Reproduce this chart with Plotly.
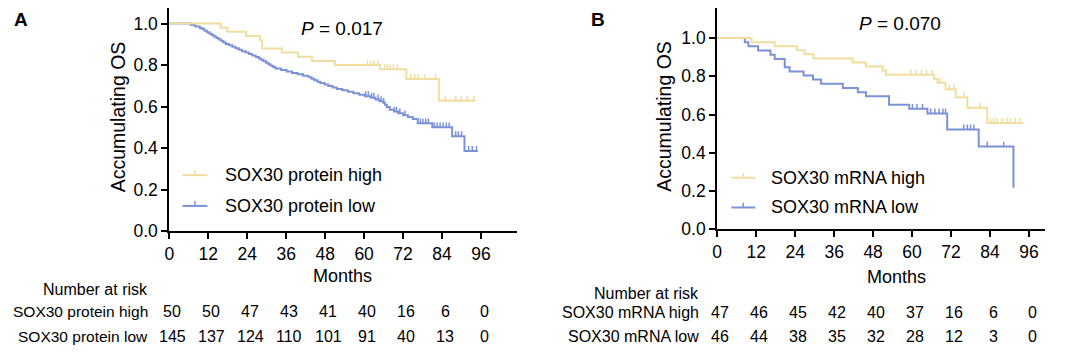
import numpy as np
import plotly.graph_objects as go

W, H = 1067, 353
OFF = 8  # page offset of the figure inside the browser window
FONT = "Liberation Sans, Arial, sans-serif"
YELLOW = "#F1DE9F"
BLUE = "#7C92D7"

# ---------------- data ----------------
MONTH_TICKS = [0, 12, 24, 36, 48, 60, 72, 84, 96]
SURV_TICKS = [0.0, 0.2, 0.4, 0.6, 0.8, 1.0]

# Panel A: SOX30 protein
protein_high_t = [0, 15.8, 17.9, 23.7, 27.9, 28.6, 34.7, 39.6, 43.9, 51.0, 64.9, 73.0, 83.0, 94.3]
protein_high_s = [1.0, 0.98, 0.96, 0.94, 0.92, 0.88, 0.86, 0.84, 0.82, 0.80, 0.78, 0.733, 0.628, 0.628]
protein_high_cens = [61.0, 62.0, 63.0, 64.2, 66.3, 67.2, 68.1, 69.0, 70.3, 74.3, 75.6, 76.6, 78.6, 82.0,
                     85.0, 88.2, 89.9, 91.8, 93.8]

protein_low_t = [0, 6.6, 8.0, 9.4, 10.2, 10.9, 11.6, 12.4, 13.1, 13.8, 14.5, 15.2, 16.0, 16.7, 17.4,
                 18.4, 19.4, 20.4, 21.4, 22.4, 23.5, 24.5, 25.5, 26.6, 27.6, 28.3, 29.0, 29.8, 30.5,
                 31.2, 32.0, 32.7, 34.4, 36.1, 37.8, 39.5, 41.2, 42.9, 43.8, 44.7, 45.6, 46.5, 47.8,
                 49.0, 50.3, 51.6, 53.3, 55.0, 56.7, 58.5, 60.3, 62.0, 63.5, 64.7, 65.9, 66.4, 67.0,
                 67.9, 69.2, 70.5, 72.0, 73.5, 75.0, 76.5, 81.0, 87.1, 90.9, 95.0]
protein_low_s = [1.0, 0.993, 0.986, 0.979, 0.972, 0.965, 0.958, 0.951, 0.944, 0.937, 0.930, 0.923, 0.916,
                 0.909, 0.902, 0.895, 0.888, 0.881, 0.874, 0.867, 0.860, 0.853, 0.846, 0.839, 0.832,
                 0.825, 0.818, 0.811, 0.804, 0.797, 0.790, 0.783, 0.776, 0.769, 0.762, 0.755, 0.748,
                 0.741, 0.734, 0.727, 0.720, 0.713, 0.706, 0.699, 0.692, 0.685, 0.678, 0.671, 0.664,
                 0.657, 0.650, 0.642, 0.634, 0.626, 0.618, 0.608, 0.598, 0.585, 0.576, 0.567, 0.558,
                 0.549, 0.540, 0.519, 0.500, 0.457, 0.386, 0.386]
protein_low_cens = [60.5, 61.3, 62.3, 63.0, 64.3, 65.2, 66.0, 69.3, 70.0, 71.0, 72.6, 77.3, 78.1, 79.0,
                    79.8, 81.6, 82.5, 83.4, 84.3, 85.3, 86.2, 88.2, 89.0, 90.0, 92.2, 93.3, 94.6]

# Panel B: SOX30 mRNA
mrna_high_t = [0, 10.6, 17.7, 24.6, 26.9, 29.7, 41.7, 45.8, 50.9, 52.0, 66.7, 67.8, 70.3, 73.4, 77.0,
               83.1, 94.3]
mrna_high_s = [1.0, 0.979, 0.957, 0.936, 0.915, 0.894, 0.872, 0.851, 0.830, 0.809, 0.787, 0.766, 0.732,
               0.690, 0.636, 0.556, 0.556]
mrna_high_cens = [59.6, 61.1, 62.9, 64.5, 66.2, 68.6, 71.5, 72.8, 75.9, 81.0, 84.1, 85.1, 86.1, 87.7,
                  89.2, 90.2, 91.8, 93.3]

mrna_low_t = [0, 8.5, 9.6, 12.6, 16.4, 17.7, 20.8, 22.3, 26.6, 29.5, 32.0, 38.7, 43.3, 45.8, 52.9,
              59.1, 64.7, 70.8, 80.5, 91.2]
mrna_low_s = [1.0, 0.978, 0.957, 0.935, 0.913, 0.891, 0.848, 0.826, 0.804, 0.783, 0.761, 0.739, 0.717,
              0.696, 0.652, 0.630, 0.606, 0.522, 0.433, 0.217]
mrna_low_cens = [60.1, 61.5, 63.2, 65.7, 67.0, 68.3, 69.5, 70.3, 75.9, 77.0, 78.0, 79.0, 83.1, 88.2]

risk_protein_high = [50, 50, 47, 43, 41, 40, 16, 6, 0]
risk_protein_low = [145, 137, 124, 110, 101, 91, 40, 13, 0]
risk_mrna_high = [47, 46, 45, 42, 40, 37, 16, 6, 0]
risk_mrna_low = [46, 44, 38, 35, 32, 28, 12, 3, 0]

label_protein_high = "SOX30 protein high"
label_protein_low = "SOX30 protein low"
label_mrna_high = "SOX30 mRNA high"
label_mrna_low = "SOX30 mRNA low"
p_text_a = "<i>P</i> = 0.017"
p_text_b = "<i>P</i> = 0.070"

# ---------------- layout geometry (window pixels) ----------------
def px(x):
    return (x - OFF) / W


def py(y):
    return 1 - (y - OFF) / H


# x0: pixel of month 0, pm: pixels per month, y0: pixel of 0.0, pxu: pixels per unit survival
PANELS = {
    "A": dict(xa="x", ya="y", x0=165, pm=3.263, y0=237.5, xmax=107, pxu=213.5),
    "B": dict(xa="x2", ya="y2", x0=715.5, pm=3.264, y0=235.7, xmax=101, pxu=196.7),
}


def surv_at(t_list, s_list, t):
    idx = np.searchsorted(np.asarray(t_list), t, side="right") - 1
    return s_list[max(idx, 0)]


def censor_xy(t_list, s_list, cens, dy):
    xs, ys = [], []
    for c in cens:
        s = surv_at(t_list, s_list, c)
        xs += [c, c, None]
        ys += [s, s + dy, None]
    return xs, ys


fig = go.Figure()

series = [
    ("A", protein_low_t, protein_low_s, protein_low_cens, BLUE),
    ("A", protein_high_t, protein_high_s, protein_high_cens, YELLOW),
    ("B", mrna_low_t, mrna_low_s, mrna_low_cens, BLUE),
    ("B", mrna_high_t, mrna_high_s, mrna_high_cens, YELLOW),
]
for pan, t, s, cens, col in series:
    P = PANELS[pan]
    fig.add_trace(go.Scatter(x=t, y=s, mode="lines", line=dict(shape="hv", color=col, width=2),
                             xaxis=P["xa"], yaxis=P["ya"], showlegend=False, hoverinfo="skip"))
    cx, cy = censor_xy(t, s, cens, 5.0 / P["pxu"])
    fig.add_trace(go.Scatter(x=cx, y=cy, mode="lines", line=dict(color=col, width=1.5),
                             xaxis=P["xa"], yaxis=P["ya"], showlegend=False, hoverinfo="skip"))

axis_common = dict(showline=True, linecolor="black", linewidth=2, ticks="outside", ticklen=6,
                   tickwidth=2, tickcolor="black", showgrid=False, zeroline=False,
                   tickfont=dict(family=FONT, size=17.5, color="black"))

for key, P in PANELS.items():
    xname = "xaxis" if P["xa"] == "x" else "xaxis2"
    yname = "yaxis" if P["ya"] == "y" else "yaxis2"
    x1 = P["x0"] + P["xmax"] * P["pm"]
    ymax = (P["y0"] - OFF) / P["pxu"]  # axis reaches the top of the figure
    fig.update_layout(**{
        xname: dict(domain=[px(P["x0"]), px(x1)], range=[0, P["xmax"]], anchor=P["ya"],
                    tickvals=MONTH_TICKS, **axis_common),
        yname: dict(domain=[py(P["y0"]), 1.0], range=[0, ymax], anchor=P["xa"],
                    tickvals=SURV_TICKS, tickformat=".1f", **axis_common),
    })

ann = []


def text(x, y, s, size=18, xanchor="center", bold=False, xref="paper", xshift=0, angle=0,
         yanchor="middle"):
    ann.append(dict(x=x, y=py(y) if y is not None else 1.0, xref=xref, yref="paper",
                    text=("<b>%s</b>" % s) if bold else s,
                    showarrow=False, xanchor=xanchor, yanchor=yanchor, xshift=xshift,
                    borderpad=0, textangle=angle,
                    font=dict(family=FONT, size=size, color="black")))


# panel letters (top-anchored so they stay inside the figure)
text(px(16), None, "A", size=19, bold=True, yanchor="top")
text(px(596), None, "B", size=19, bold=True, yanchor="top")
# P values
text(px(339), 29, p_text_a, size=19)
text(px(899), 24, p_text_b, size=19)
# axis titles
text(px(339), 283.5, "Months", size=18)
text(px(896), 285, "Months", size=18)
text(px(113), 120, "Accumulating OS", size=19.5, angle=-90)
text(px(662), 119, "Accumulating OS", size=19.5, angle=-90)

# legends (drawn as layout decoration)
shapes = []
legends = [
    (178.3, 203.3, 219.3, [(180, YELLOW, label_protein_high), (211.7, BLUE, label_protein_low)]),
    (729.7, 753.8, 767.6, [(182.7, YELLOW, label_mrna_high), (213.3, BLUE, label_mrna_low)]),
]
for lx0, lx1, tx, rows in legends:
    for yy, col, lab in rows:
        shapes.append(dict(type="line", xref="paper", yref="paper", x0=px(lx0), x1=px(lx1),
                           y0=py(yy), y1=py(yy), line=dict(color=col, width=2)))
        xm = (lx0 + lx1) / 2
        shapes.append(dict(type="line", xref="paper", yref="paper", x0=px(xm), x1=px(xm),
                           y0=py(yy), y1=py(yy - 5), line=dict(color=col, width=1.5)))
        ann.append(dict(x=px(tx), y=py(yy), xref="paper", yref="paper", text=lab, showarrow=False,
                        xanchor="left", yanchor="middle",
                        font=dict(family=FONT, size=18, color="black")))

# number at risk tables
tables = [
    ("x", 145, 297.5, 15.5, [(320, label_protein_high, risk_protein_high),
                             (346, label_protein_low, risk_protein_low)]),
    ("x2", 698, 301.7, 16, [(321.7, label_mrna_high, risk_mrna_high),
                            (346, label_mrna_low, risk_mrna_low)]),
]
for xr, rx, hy, lsize, rows in tables:
    text(px(rx), hy, "Number at risk", size=16, xanchor="right")
    for yy, lab, vals in rows:
        text(px(rx), yy, lab, size=lsize, xanchor="right")
        for m, v in zip(MONTH_TICKS, vals):
            text(m, yy, str(v), size=16, xref=xr, xshift=3)

fig.update_layout(width=W, height=H, margin=dict(l=0, r=0, t=0, b=0), plot_bgcolor="white",
                  paper_bgcolor="white", annotations=ann, shapes=shapes, showlegend=False,
                  font=dict(family=FONT, color="black"))

fig.write_html("out.html")
